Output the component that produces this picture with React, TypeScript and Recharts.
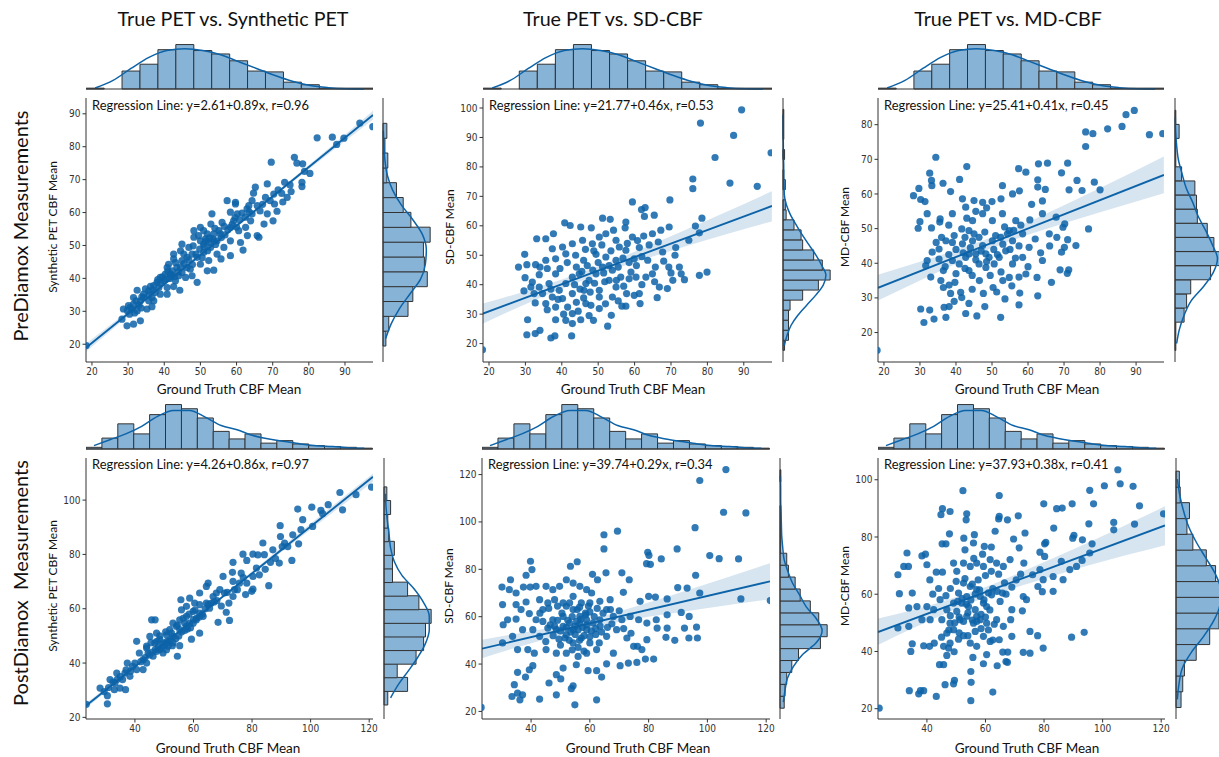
import React from "react";
import { ComposedChart, Scatter, Line, Area, Bar, XAxis, YAxis } from "recharts";

const BLUE = "#0d63a8";
const HIST_FILL = "#87b3d7";
const EDGE = "#333333";
const TICK_FONT = '"DejaVu Sans Condensed", "DejaVu Sans", sans-serif';
const TEXT_FONT = 'Lato, "Noto Sans", sans-serif';

// ground truth histograms (same x data for every panel of a row)
const preGtStart = 18.4;
const preGtBin = 4.96;
const preGtCounts = [1, 0, 21, 29, 46, 52, 45, 41, 33, 21, 20, 8, 5, 1, 1, 1];
const preGtKde = [1.2, 10, 24, 37, 45, 47, 45, 40, 32, 24, 16, 9, 4, 1.6, 0.4, 0.1];

const postGtStart = 23.3;
const postGtBin = 5.43;
const postGtCounts = [2, 13, 30, 18, 41, 53, 48, 37, 21, 12, 18, 7, 10, 6, 4, 3, 2, 1];
const postGtKde = [4, 11, 18, 27, 39, 46, 46, 38, 28, 23, 16, 12, 9, 6, 4, 3, 1.6, 0.8];

// right-hand marginal histograms
const p1SideStart = 19.5;
const p1SideBin = 4.507;
const p1SideCounts = [3, 6, 26, 31, 46, 43, 42, 49, 29, 21, 14, 4, 5, 2, 4];
const p1SideKde = [2.8, 8.6, 17, 28, 39, 44, 45, 41, 31, 19, 10, 4.5, 2, 1, 0.3];

const p2SideStart = 17.7;
const p2SideBin = 3.41;
const p2SideCounts = [2, 7, 7, 7, 9, 25, 45, 60, 50, 39, 25, 23, 14, 4, 3, 0, 3, 1, 0, 2, 0, 1, 1, 1];
const p2SideKde = [1.7, 5.2, 10.3, 18.9, 30.1, 41.7, 51.2, 54.6, 49, 41.7, 33.1, 24.5, 16.8, 9.5, 4.3, 1.7, 1.3, 0.9, 0.9, 0.4, 0.4, 0.2, 0.1, 0.1];

const p3SideStart = 14.8;
const p3SideBin = 4.08;
const p3SideCounts = [1, 1, 11, 14, 19, 43, 57, 47, 39, 27, 26, 24, 8, 1, 1, 5, 1];
const p3SideKde = [2, 5.3, 11, 19.3, 34, 46, 51.3, 45, 37, 28, 21.3, 13.5, 8.6, 4.1, 2, 0.8, 0.4];

const p4SideStart = 24.7;
const p4SideBin = 5.01;
const p4SideCounts = [4, 25, 14, 34, 42, 44, 50, 37, 25, 9, 9, 11, 5, 4, 7, 3];
const p4SideKde = [7, 15.5, 26, 36, 44, 48, 48, 42, 32, 19, 11, 7, 5.4, 3.6, 2.2, 1.4];

const p5SideStart = 21.4;
const p5SideBin = 5.03;
const p5SideCounts = [5, 6, 8, 14, 22, 48, 56, 46, 36, 24, 18, 10, 8, 1, 1, 1, 1, 0, 0, 1];
const p5SideKde = [4, 6, 8.8, 16, 26.8, 43.2, 50, 43.2, 31.2, 23.2, 14.8, 9.2, 4.8, 3.2, 2, 1.6, 1.2, 0.8, 0.8, 0.4];

const p6SideStart = 20.5;
const p6SideBin = 5.5;
const p6SideCounts = [6, 8, 10, 24, 40, 51, 56, 55, 47, 36, 20, 13, 16, 5, 4];
const p6SideKde = [1.6, 3.6, 7.6, 18.4, 32.8, 44.8, 52, 52.8, 46.4, 35.2, 24, 14.8, 8.8, 4.4, 1.6];

// regression fits [intercept, slope] and r as printed
const p1Fit = [2.61, 0.89];
const p2Fit = [21.77, 0.46];
const p3Fit = [25.41, 0.41];
const p4Fit = [4.26, 0.86];
const p5Fit = [39.74, 0.29];
const p6Fit = [37.93, 0.38];
const rValues = [0.96, 0.53, 0.45, 0.97, 0.34, 0.41];

// confidence bands [x, lower, upper]
const p1Band = [[18.4, 17.8, 20.2], [40, 37.7, 38.7], [55, 51.1, 52.0], [75, 68.8, 69.9], [97.8, 88.3, 91.0]];
const p2Band = [[18.1, 26.7, 33.5], [30, 33.4, 37.8], [45, 41.1, 43.9], [55, 45.6, 48.6], [65, 49.6, 53.8], [80, 55.3, 61.9], [97.7, 61.5, 71.7]];
const p3Band = [[18.3, 29.2, 36.7], [30, 35.0, 40.4], [45, 42.2, 45.6], [55, 46.4, 49.6], [65, 49.9, 54.3], [80, 54.7, 61.7], [97.7, 60.2, 70.8]];
const p4Band = [[23.3, 23.4, 25.2], [50, 46.9, 47.7], [70, 64.0, 65.0], [95, 85.0, 87.0], [121.3, 106.8, 109.8]];
const p5Band = [[23.3, 42.5, 50.3], [35, 47.0, 52.8], [50, 52.2, 56.2], [60, 55.4, 58.8], [75, 58.9, 64.1], [95, 62.7, 71.9], [121.3, 67.4, 82.6]];
const p6Band = [[23.3, 42.3, 51.5], [35, 48.0, 54.4], [50, 54.8, 59.0], [60, 58.9, 62.5], [75, 63.8, 69.0], [95, 70.0, 78.0], [121.3, 77.1, 90.7]];

// scatter points [ground truth, estimate]
const p1Points = [
  [97.7, 86.1], [94.1, 87.2], [89.7, 82.6], [86.5, 82.9], [87.7, 80.7], [82.3, 82.7], [69.6, 75.3], [76.0, 76.8], [76.7, 75.0], [78.3, 74.8],
  [78.8, 72.5], [80.3, 71.9], [78.1, 69.2], [78.1, 67.9], [73.3, 69.2], [75.1, 66.4], [74.0, 64.6], [71.5, 66.9], [70.3, 65.6], [68.5, 68.7],
  [65.2, 67.7], [64.7, 65.9], [68.0, 64.6], [70.5, 62.6], [71.2, 60.4], [68.5, 59.6], [70.1, 57.5], [67.6, 56.5], [66.2, 52.5], [65.7, 53.0],
  [63.0, 53.0], [61.8, 48.6], [63.4, 62.1], [64.3, 59.6], [59.7, 62.6], [58.3, 60.1], [60.2, 59.6], [59.2, 57.5], [58.3, 55.5], [56.0, 57.0],
  [53.2, 59.6], [52.9, 56.5], [50.0, 55.5], [48.2, 52.5], [48.0, 49.9], [50.9, 50.4], [53.7, 51.4], [55.5, 53.5], [58.3, 51.4], [61.1, 50.9],
  [54.6, 47.4], [55.7, 45.9], [58.3, 46.9], [51.9, 42.3], [53.7, 42.5], [49.1, 38.8], [47.2, 42.8], [44.9, 45.4], [44.5, 48.4], [42.6, 47.4],
  [46.3, 46.4], [40.8, 43.3], [41.7, 41.3], [43.1, 39.3], [39.9, 39.3], [38.5, 37.2], [37.5, 35.7], [35.7, 36.2], [38.9, 35.2], [36.6, 34.2],
  [34.3, 34.2], [32.5, 36.4], [33.4, 33.2], [31.5, 32.2], [30.6, 31.2], [32.5, 30.1], [30.4, 29.1], [28.3, 27.6], [29.7, 25.6], [31.5, 26.1],
  [33.4, 27.1], [36.6, 31.4], [35.2, 30.7], [40.8, 37.2], [42.6, 37.5], [44.3, 36.4], [45.9, 40.3], [47.7, 40.8], [46.3, 43.3], [50.0, 44.3],
  [52.3, 45.4], [50.9, 47.9], [52.8, 49.4], [49.5, 53.0], [51.9, 53.5], [54.6, 51.4], [56.5, 49.4], [60.6, 54.5], [62.5, 55.5], [63.9, 57.5],
  [57.4, 63.6], [59.7, 63.1], [62.9, 61.1], [65.7, 62.1], [64.3, 63.6], [41.2, 44.3], [42.2, 42.3], [43.5, 43.3], [44.0, 40.8], [44.9, 41.8],
  [40.3, 41.3], [38.9, 40.3], [38.0, 38.8], [37.1, 37.8], [45.4, 47.4], [46.8, 49.4], [47.7, 47.4], [49.1, 46.4], [50.0, 51.4], [51.4, 52.0],
  [52.3, 50.9], [53.7, 53.5], [55.1, 54.5], [50.9, 54.5], [48.2, 54.5], [44.9, 50.4], [42.6, 45.9], [34.3, 35.2], [35.7, 33.2], [31.5, 34.2],
  [30.1, 31.7], [28.7, 30.7], [33.0, 31.9], [37.1, 33.2], [40.8, 35.2], [43.1, 44.8], [18.4, 19.6],
  [39.5, 40.5], [40.5, 39.8], [41.5, 40.0], [42.0, 41.0], [42.8, 40.5], [43.8, 42.0], [44.5, 43.5], [41.0, 42.2], [39.0, 38.5], [38.2, 39.6],
  [36.8, 36.5], [35.8, 35.0], [36.2, 37.6], [34.8, 36.8], [33.8, 34.4], [32.2, 33.2], [31.0, 30.6], [29.8, 30.2], [31.8, 29.5], [33.6, 31.0],
  [45.5, 44.5], [46.8, 45.6], [47.8, 44.2], [48.8, 47.4], [49.8, 48.9], [51.0, 49.6], [51.6, 51.3], [52.5, 52.3], [53.4, 52.0], [54.2, 50.3],
  [52.0, 48.4], [50.5, 46.3], [55.8, 52.4], [56.8, 53.2], [57.6, 54.8], [58.8, 56.4], [59.6, 58.5], [60.8, 57.8], [61.5, 59.8], [62.4, 58.6],
  [60.0, 55.6], [56.6, 55.8], [54.0, 55.2], [63.5, 60.2], [66.5, 60.5], [67.2, 62.5], [69.3, 63.6], [72.5, 65.8], [72.8, 63.2], [74.8, 68.4],
];

const p2Points = [
  [89.4, 99.4], [78.1, 94.9], [87.2, 90.7], [82.1, 83.2], [97.5, 84.8], [86.2, 74.5], [93.7, 73.4], [76.0, 75.9], [76.0, 72.6], [69.7, 68.8],
  [59.4, 68.1], [78.5, 62.6], [76.7, 59.9], [77.8, 57.6], [74.9, 55.1], [77.8, 43.2], [79.9, 44.3], [51.2, 62.6], [53.3, 62.2], [62.7, 63.2],
  [65.4, 63.6], [61.9, 65.5], [62.9, 66.2], [57.6, 61.3], [54.2, 58.5], [57.4, 59.3], [48.1, 59.3], [45.2, 59.6], [40.8, 61.0], [42.3, 60.1],
  [37.7, 57.3], [33.1, 55.6], [35.6, 55.6], [29.8, 50.3], [28.1, 46.0], [30.4, 46.8], [32.8, 46.8], [29.9, 42.4], [31.9, 40.9], [31.5, 39.2],
  [29.6, 37.9], [32.4, 37.0], [34.7, 37.0], [33.8, 43.4], [32.7, 33.8], [30.6, 28.1], [30.4, 23.0], [32.7, 23.4], [34.0, 24.5], [37.0, 21.9],
  [38.1, 22.6], [42.7, 22.6], [52.6, 25.9], [42.9, 26.8], [41.6, 32.4], [38.3, 28.1], [45.2, 28.1], [48.7, 27.9], [50.3, 31.9], [53.6, 29.6],
  [57.6, 32.7], [61.5, 33.6], [56.5, 32.7], [18.2, 17.9], [46.0, 48.3], [49.4, 50.3], [52.1, 49.4], [54.9, 48.3], [57.6, 51.7], [59.9, 48.8],
  [61.3, 52.6], [63.6, 48.3], [65.7, 46.0], [67.7, 51.1], [69.4, 46.0], [71.1, 50.0], [72.3, 46.0], [70.5, 41.5], [72.8, 43.7], [73.7, 41.7],
  [66.8, 39.2], [66.2, 35.6], [69.0, 38.7], [61.3, 37.0], [59.9, 36.4], [57.8, 37.0], [54.9, 39.2], [53.0, 41.5], [50.3, 38.1], [46.6, 40.4],
  [44.8, 43.7], [42.9, 42.6], [41.1, 40.4], [39.3, 38.1], [37.4, 35.8], [40.2, 35.3], [42.9, 37.0], [46.1, 38.1], [47.5, 41.5], [49.4, 43.7],
  [51.2, 46.0], [53.9, 44.9], [56.2, 42.6], [59.0, 44.3], [60.4, 42.6], [63.1, 42.6], [64.9, 43.7], [38.3, 43.7], [36.5, 40.4], [35.6, 48.3],
  [38.3, 48.8], [41.1, 50.5], [42.9, 53.9], [45.7, 55.1], [48.4, 53.9], [50.3, 56.2], [52.1, 57.3], [54.9, 55.1], [59.4, 56.2], [64.9, 57.3],
  [67.2, 58.5], [69.5, 59.6], [71.3, 52.6], [40.2, 52.8], [37.4, 52.2], [33.8, 39.2], [35.6, 33.6], [42.9, 30.2], [46.6, 33.6], [50.3, 35.8],
  [53.9, 35.8], [38.3, 32.4], [41.1, 27.9],
  [44.0, 46.0], [45.5, 44.5], [47.0, 46.5], [48.5, 45.0], [50.0, 47.5], [51.5, 44.0], [53.0, 46.5], [55.5, 46.0], [56.8, 49.0], [58.5, 47.5],
  [60.5, 46.5], [62.0, 49.5], [43.5, 40.0], [45.0, 38.5], [47.8, 37.5], [49.0, 40.5], [51.8, 41.0], [55.0, 41.5], [57.0, 39.5], [44.0, 34.0],
  [46.0, 35.5], [48.0, 33.0], [52.0, 33.5], [39.5, 45.5], [41.5, 47.5], [43.8, 50.0], [46.5, 52.0], [48.8, 51.5], [51.0, 53.5], [53.5, 51.5],
  [55.8, 52.8], [58.0, 54.0], [60.8, 55.0], [62.5, 56.5], [64.0, 53.5], [66.5, 54.5], [68.0, 48.0], [70.0, 44.0], [36.0, 45.5], [34.0, 46.0],
  [37.0, 38.5], [39.0, 35.0], [36.0, 31.5], [40.5, 30.0], [44.5, 31.0], [47.5, 29.5], [55.5, 34.5], [58.5, 42.0], [62.0, 40.0], [65.5, 41.0],
];

const p3Points = [
  [89.5, 84.1], [87.2, 82.9], [86.1, 79.5], [82.1, 78.8], [78.0, 77.4], [76.0, 77.9], [76.0, 73.7], [93.7, 77.1], [97.4, 77.4], [34.4, 70.6],
  [43.0, 67.9], [32.7, 66.0], [33.2, 63.9], [33.3, 62.4], [28.2, 59.5], [29.7, 61.6], [30.2, 58.4], [31.4, 57.8], [32.0, 54.3], [30.0, 52.0],
  [29.5, 50.1], [33.2, 50.2], [35.5, 51.9], [35.6, 52.8], [36.4, 63.1], [38.5, 60.7], [41.0, 64.2], [41.8, 58.6], [45.0, 58.1], [47.4, 57.6],
  [50.0, 57.8], [52.5, 58.6], [52.9, 62.4], [55.7, 60.0], [57.6, 60.9], [57.4, 67.3], [59.4, 66.3], [62.9, 68.7], [65.4, 68.9], [71.0, 68.9],
  [69.3, 66.1], [62.7, 64.1], [62.7, 62.0], [64.8, 61.3], [71.4, 61.2], [73.6, 63.9], [75.0, 61.0], [78.4, 63.4], [80.0, 61.2], [76.8, 49.9],
  [73.3, 45.1], [71.0, 46.8], [70.1, 44.6], [69.3, 43.2], [71.3, 38.1], [70.9, 37.1], [68.9, 38.1], [66.5, 34.5], [62.5, 35.9], [62.7, 30.6],
  [57.7, 31.4], [57.5, 28.0], [53.6, 29.7], [52.4, 24.4], [51.3, 31.7], [50.3, 33.0], [47.6, 31.3], [45.8, 24.8], [43.6, 28.4], [42.7, 25.5],
  [41.6, 30.1], [41.3, 31.6], [38.5, 31.3], [38.1, 27.5], [36.7, 27.3], [37.2, 24.4], [33.9, 23.9], [32.7, 26.5], [31.1, 22.9], [30.2, 26.8],
  [35.8, 35.0], [38.1, 33.7], [39.7, 34.5], [36.5, 37.9], [31.6, 39.3], [32.0, 40.8], [35.3, 41.2], [33.4, 43.2], [35.3, 44.1], [37.2, 46.5],
  [39.5, 48.0], [41.6, 49.9], [43.6, 49.4], [44.6, 46.5], [46.4, 47.5], [47.4, 45.1], [49.2, 41.7], [45.5, 42.7], [42.7, 41.7], [40.9, 39.8],
  [43.6, 37.9], [46.4, 39.8], [48.3, 38.8], [50.6, 39.8], [52.0, 41.7], [53.8, 43.6], [55.7, 46.5], [54.8, 49.4], [56.6, 52.3], [52.9, 54.3],
  [50.1, 52.3], [47.4, 54.3], [44.6, 52.3], [58.5, 48.5], [60.3, 44.6], [58.5, 41.7], [55.7, 39.8], [54.8, 35.9], [59.4, 36.9], [64.0, 40.8],
  [65.9, 48.5], [67.8, 53.3], [64.0, 54.3], [69.7, 50.4], [70.2, 51.4], [50.1, 46.5], [52.4, 47.5], [54.3, 48.5], [18.1, 14.9], [39.0, 40.8],
  [41.8, 45.6], [43.6, 42.7], [48.3, 42.7], [39.0, 54.3], [42.7, 56.2],
  [40.0, 44.0], [42.0, 43.0], [44.0, 44.5], [45.5, 41.0], [47.0, 43.5], [48.5, 40.5], [50.5, 44.0], [51.5, 42.5], [53.0, 45.5], [55.0, 44.0],
  [56.5, 41.5], [57.5, 45.0], [42.5, 38.5], [44.5, 36.5], [46.5, 35.0], [49.5, 36.5], [52.5, 37.5], [55.5, 33.5], [57.5, 36.0], [40.0, 37.0],
  [38.0, 42.5], [37.0, 39.0], [36.0, 47.5], [39.0, 46.0], [42.5, 47.5], [45.0, 48.5], [48.0, 49.0], [51.0, 48.0], [53.5, 50.5], [56.0, 49.5],
  [58.0, 51.0], [60.5, 52.5], [62.0, 47.0], [63.5, 43.0], [66.0, 45.0], [68.0, 47.5], [61.0, 57.0], [64.0, 58.0], [48.5, 56.0], [45.5, 55.0],
  [43.0, 53.0], [38.0, 51.0], [34.5, 46.0], [33.0, 36.0], [36.5, 33.0], [39.5, 29.0], [44.5, 32.5], [48.0, 27.5], [53.0, 35.0], [60.0, 39.0],
];

const p4Points = [
  [120.8, 104.8], [115.5, 102.0], [110.0, 102.8], [110.9, 96.4], [106.0, 98.3], [103.5, 96.2], [104.1, 95.0], [100.4, 97.4], [95.6, 96.7], [97.3, 92.8],
  [96.7, 89.1], [93.9, 87.2], [95.9, 83.9], [93.6, 77.8], [89.6, 90.6], [89.7, 86.6], [90.3, 82.9], [91.1, 84.2], [83.7, 84.2], [80.3, 80.1],
  [76.9, 80.1], [78.2, 77.8], [82.0, 79.8], [84.2, 79.9], [86.3, 77.1], [89.3, 76.8], [85.7, 68.5], [82.5, 72.5], [80.3, 67.2], [79.9, 66.4],
  [77.8, 65.2], [78.2, 69.4], [76.3, 73.1], [73.5, 77.1], [73.3, 73.4], [70.1, 71.9], [73.5, 70.1], [74.0, 67.0], [72.1, 62.1], [72.3, 55.7],
  [71.2, 58.7], [68.4, 55.0], [67.8, 65.8], [65.0, 69.4], [64.4, 68.2], [62.1, 65.8], [62.1, 61.5], [65.5, 60.2], [63.3, 57.2], [60.4, 62.1],
  [58.7, 63.9], [55.7, 63.3], [59.9, 59.0], [57.6, 57.2], [62.1, 51.0], [59.3, 48.8], [55.3, 46.4], [54.5, 42.5], [52.8, 46.4], [54.2, 53.5],
  [50.8, 50.4], [49.6, 47.4], [46.8, 47.4], [45.7, 55.9], [46.9, 55.9], [45.1, 49.8], [44.5, 43.7], [42.8, 41.2], [41.5, 43.7], [40.6, 48.0],
  [40.0, 40.0], [37.4, 40.0], [36.6, 36.3], [33.8, 36.3], [36.8, 30.2], [30.6, 28.0], [30.6, 25.0], [28.1, 30.8], [31.5, 33.9], [33.2, 32.7],
  [34.9, 30.8], [38.3, 35.1], [40.6, 37.6], [44.0, 40.0], [46.2, 42.5], [48.5, 44.9], [49.6, 43.7], [51.3, 46.2], [53.0, 49.8], [55.3, 52.3],
  [57.0, 54.7], [58.7, 54.7], [61.0, 55.9], [64.4, 62.1], [66.7, 64.5], [69.0, 67.0], [70.6, 65.8], [75.7, 69.4], [47.4, 51.0], [48.5, 48.6],
  [50.8, 47.4], [51.9, 52.3], [53.0, 54.7], [55.3, 55.9], [57.6, 53.5], [59.9, 54.7], [62.1, 58.4], [55.9, 59.6], [57.6, 60.9], [50.8, 44.9],
  [47.4, 44.3], [42.8, 37.6], [39.2, 38.8], [35.8, 33.9], [33.0, 30.2], [44.0, 46.2], [73.5, 64.5], [80.3, 71.9], [87.1, 81.7], [92.2, 82.9],
  [100.7, 90.3], [23.4, 24.8],
  [42.0, 40.5], [43.5, 42.0], [45.0, 43.0], [46.0, 44.0], [47.0, 45.0], [48.0, 46.0], [49.0, 45.5], [50.0, 46.5], [51.0, 48.0], [52.0, 48.5],
  [53.0, 47.5], [54.0, 49.0], [55.0, 50.0], [56.0, 51.5], [57.0, 52.0], [58.0, 52.5], [59.0, 53.0], [60.0, 56.0], [61.0, 56.5], [62.0, 57.0],
  [63.0, 58.0], [64.0, 60.0], [65.0, 61.5], [66.0, 62.0], [67.0, 62.5], [68.0, 63.0], [38.5, 37.0], [37.0, 37.5], [35.0, 35.0], [34.0, 34.0],
  [32.5, 33.0], [31.0, 31.0], [29.5, 29.5], [48.5, 50.0], [50.5, 51.5], [52.5, 51.0], [54.5, 54.0], [56.5, 56.5], [58.5, 58.0], [60.5, 59.5],
  [45.5, 47.5], [44.0, 45.5], [47.5, 48.0], [69.5, 61.0], [71.5, 66.0], [75.0, 67.0], [77.0, 71.5], [81.5, 75.0], [84.5, 74.5], [88.0, 78.5],
];

const p5Points = [
  [106.3, 122.1], [97.4, 117.5], [105.5, 104.1], [113.1, 103.8], [95.8, 97.6], [64.8, 94.6], [69.4, 96.1], [64.8, 88.6], [89.7, 88.6], [79.7, 87.2],
  [80.1, 85.9], [84.3, 84.4], [100.8, 85.8], [104.0, 84.5], [110.6, 84.4], [79.3, 82.4], [80.6, 82.1], [96.0, 77.5], [55.7, 83.2], [53.4, 81.3],
  [39.8, 83.4], [40.3, 79.9], [38.3, 77.5], [60.9, 77.9], [65.5, 78.5], [70.9, 78.5], [62.6, 75.6], [73.4, 75.6], [30.1, 72.5], [32.6, 71.4],
  [33.0, 75.6], [34.9, 70.0], [37.4, 72.5], [39.7, 72.5], [41.7, 72.8], [45.1, 72.8], [47.4, 71.4], [49.7, 72.8], [52.0, 75.6], [54.3, 74.2],
  [56.6, 72.8], [58.9, 71.4], [60.6, 70.0], [54.3, 68.6], [30.3, 65.1], [34.9, 65.1], [38.3, 66.2], [42.9, 67.2], [45.7, 65.8], [48.0, 67.2],
  [50.9, 65.8], [53.1, 65.8], [57.1, 65.8], [60.0, 65.8], [63.4, 66.5], [66.9, 67.2], [71.4, 70.3], [77.1, 66.5], [80.0, 68.6], [82.3, 68.3],
  [86.3, 67.5], [93.1, 72.1], [89.9, 72.3], [97.4, 70.0], [111.4, 67.5], [121.4, 66.8], [30.5, 56.6], [32.0, 58.7], [34.9, 59.0], [36.6, 63.0],
  [39.4, 61.3], [41.7, 58.7], [44.0, 63.0], [47.4, 58.7], [50.9, 60.1], [53.1, 57.3], [56.6, 60.1], [58.9, 58.7], [61.1, 57.3], [63.4, 58.7],
  [65.7, 63.0], [68.0, 60.1], [70.9, 58.7], [73.7, 60.1], [76.6, 58.7], [79.4, 57.3], [82.6, 58.7], [86.3, 60.8], [91.1, 61.8], [93.8, 60.1],
  [82.9, 55.2], [86.3, 55.2], [92.2, 55.2], [96.3, 55.6], [96.6, 51.0], [93.7, 51.0], [88.9, 50.0], [85.9, 51.3], [79.4, 50.3], [76.2, 47.5],
  [77.7, 46.1], [74.9, 47.5], [72.6, 51.0], [69.1, 54.5], [65.7, 51.7], [63.2, 48.9], [60.0, 48.9], [57.1, 51.0], [54.3, 48.9], [52.0, 52.4],
  [48.6, 54.5], [45.7, 55.2], [42.9, 51.7], [40.6, 54.5], [37.1, 54.5], [33.7, 51.7], [30.3, 48.9], [35.4, 46.1], [38.9, 46.1], [41.1, 44.6],
  [45.1, 46.1], [48.6, 44.6], [52.0, 44.6], [56.0, 43.2], [58.9, 44.6], [62.3, 46.1], [68.0, 44.6], [78.9, 42.1], [81.7, 42.1], [76.0, 40.7],
  [73.1, 40.4], [70.3, 39.3], [65.7, 40.1], [62.3, 37.2], [59.4, 37.2], [64.0, 34.5], [55.4, 39.7], [50.9, 38.3], [48.6, 35.5], [46.1, 32.0],
  [40.6, 39.3], [39.4, 37.6], [38.1, 34.5], [35.4, 36.5], [34.3, 31.3], [33.5, 26.3], [35.4, 27.7], [37.1, 27.0], [36.2, 24.9], [42.9, 25.2],
  [48.6, 27.0], [50.1, 33.7], [54.3, 30.8], [53.7, 29.6], [54.9, 22.8], [62.3, 24.9], [23.0, 21.7], [52.0, 64.4], [54.3, 63.0], [56.6, 57.3],
  [58.9, 54.5], [54.3, 54.5], [50.9, 55.9], [55.7, 63.0], [58.6, 60.8],
  [48.0, 56.0], [50.0, 54.0], [52.0, 55.5], [53.5, 53.5], [55.0, 56.0], [56.0, 54.5], [57.5, 55.5], [59.0, 56.5], [60.5, 54.0], [62.0, 55.0],
  [63.5, 56.0], [52.5, 58.5], [54.0, 60.0], [55.5, 58.0], [57.0, 59.0], [58.5, 61.5], [60.0, 62.0], [61.5, 60.0], [50.5, 61.5], [49.0, 58.5],
  [46.5, 56.5], [47.5, 52.0], [49.5, 50.5], [51.5, 51.0], [53.0, 50.0], [55.0, 52.5], [56.5, 50.0], [58.0, 52.0], [60.0, 51.5], [62.0, 52.5],
  [64.0, 53.5], [66.0, 55.5], [67.5, 57.0], [56.0, 47.0], [58.0, 45.5], [54.0, 46.0], [50.0, 48.0], [45.0, 49.5], [44.0, 58.0], [43.0, 61.5],
  [46.0, 63.5], [49.0, 64.5], [56.5, 64.0], [59.5, 64.5], [62.5, 63.5], [64.5, 61.5], [67.0, 63.0], [70.0, 62.5], [71.5, 55.0], [74.0, 53.0],
];

const p6Points = [
  [105.2, 103.5], [106.0, 98.6], [110.4, 97.7], [100.6, 97.9], [95.6, 96.3], [52.3, 96.2], [64.7, 94.5], [96.9, 91.6], [112.6, 90.9], [89.6, 91.6],
  [79.9, 91.6], [86.2, 90.1], [84.3, 89.9], [45.3, 89.9], [47.9, 88.9], [44.8, 87.8], [53.6, 88.1], [53.4, 86.0], [64.7, 87.2], [64.5, 86.3],
  [67.5, 86.0], [71.2, 87.4], [120.8, 88.1], [110.9, 84.5], [103.8, 85.1], [103.8, 82.5], [95.3, 84.6], [93.1, 79.0], [83.3, 83.1], [73.5, 81.4],
  [63.3, 82.0], [52.6, 79.6], [47.7, 81.1], [45.2, 77.6], [46.5, 77.6], [56.2, 80.8], [55.9, 77.9], [59.6, 76.7], [62.0, 76.5], [69.6, 79.3],
  [71.5, 76.2], [80.6, 78.1], [80.2, 77.6], [90.2, 80.6], [89.8, 79.6], [96.4, 77.6], [95.6, 74.4], [93.0, 71.8], [78.6, 74.7], [80.2, 73.2],
  [85.9, 71.5], [91.1, 69.7], [88.8, 68.6], [30.1, 66.8], [33.2, 74.4], [33.7, 69.7], [32.1, 69.7], [38.3, 73.4], [39.5, 74.0], [40.0, 70.3],
  [43.2, 67.7], [45.3, 67.7], [49.1, 70.9], [50.2, 68.0], [52.5, 70.9], [54.8, 69.7], [57.0, 70.9], [59.3, 69.7], [61.6, 72.1], [63.8, 70.9],
  [66.1, 69.7], [68.4, 72.1], [73.1, 70.9], [76.1, 66.8], [78.6, 68.6], [79.7, 65.1], [83.1, 66.2], [86.5, 65.1], [83.1, 61.0], [79.4, 60.9],
  [77.9, 62.7], [72.9, 59.2], [74.0, 58.1], [72.6, 54.2], [69.0, 54.6], [65.8, 60.4], [62.1, 59.8], [59.3, 56.9], [57.0, 61.6], [54.8, 62.7],
  [52.5, 63.9], [50.8, 60.4], [49.1, 56.9], [46.8, 54.6], [44.5, 58.1], [42.3, 54.6], [40.0, 55.7], [36.6, 55.7], [35.0, 60.4], [33.8, 55.2],
  [30.6, 60.2], [30.1, 48.2], [33.8, 48.8], [38.3, 51.1], [41.1, 51.1], [45.1, 51.1], [47.9, 49.9], [51.3, 51.1], [53.6, 52.3], [55.9, 49.9],
  [58.2, 51.1], [60.4, 49.9], [63.8, 51.1], [66.1, 48.8], [68.6, 51.1], [64.7, 44.1], [69.0, 45.3], [75.2, 47.0], [77.8, 45.5], [79.7, 41.2],
  [75.2, 39.4], [72.9, 39.7], [67.6, 39.8], [65.9, 39.8], [60.4, 38.9], [55.7, 37.9], [59.3, 35.7], [64.0, 35.0], [67.0, 36.5], [67.5, 36.2],
  [55.0, 33.0], [55.1, 29.2], [49.4, 29.9], [49.1, 28.7], [46.2, 28.4], [43.2, 24.3], [38.9, 26.3], [37.2, 25.2], [37.8, 26.3], [34.0, 26.3],
  [62.5, 25.8], [55.0, 22.8], [35.0, 42.7], [34.5, 40.0], [38.9, 42.0], [40.9, 41.8], [42.5, 42.9], [45.7, 41.8], [47.4, 41.2], [49.3, 39.9],
  [44.3, 35.4], [45.7, 35.4], [46.8, 38.6], [47.9, 42.9], [50.8, 44.3], [52.5, 45.5], [49.1, 47.6], [46.8, 46.4], [54.8, 42.9], [57.0, 41.8],
  [59.3, 45.3], [61.6, 43.5], [23.7, 20.2], [89.4, 45.0], [93.7, 46.7], [54.2, 55.7], [56.5, 54.6], [58.2, 59.2], [60.4, 55.7], [51.9, 56.9],
  [53.6, 59.2], [50.2, 54.0], [57.0, 52.3],
  [48.0, 52.5], [49.5, 50.0], [51.0, 52.0], [52.5, 50.5], [54.0, 53.5], [55.5, 51.0], [57.0, 50.5], [58.5, 53.0], [60.0, 52.0], [61.5, 54.5],
  [50.5, 57.5], [52.0, 58.5], [53.5, 56.5], [55.0, 58.0], [56.5, 60.0], [58.0, 61.5], [59.5, 58.0], [61.0, 60.5], [62.5, 62.0], [64.0, 61.0],
  [55.5, 63.5], [57.5, 65.0], [60.0, 66.5], [62.0, 68.0], [64.5, 67.0], [66.5, 64.0], [53.0, 65.5], [50.0, 64.5], [48.0, 62.0], [46.5, 59.5],
  [47.5, 47.5], [51.0, 46.5], [54.0, 45.5], [56.5, 47.0], [58.5, 48.0], [61.0, 47.5], [63.0, 49.5], [65.0, 57.5], [67.0, 60.0], [69.0, 62.5],
  [70.5, 65.0], [72.0, 67.0], [44.0, 62.0], [42.0, 60.0], [41.0, 65.0], [56.0, 72.5], [59.0, 74.0], [53.0, 75.5], [62.5, 44.0], [45.0, 45.0],
];

// axis ticks and labels
const preXTicks = [20, 30, 40, 50, 60, 70, 80, 90];
const postXTicks = [40, 60, 80, 100, 120];
const titles = ["True PET vs. Synthetic PET", "True PET vs. SD-CBF", "True PET vs. MD-CBF"];
const yLabels = ["Synthetic PET CBF Mean", "SD-CBF Mean", "MD-CBF Mean"];
const xLabel = "Ground Truth CBF Mean";
const rowLabels = ["PreDiamox Measurements", "PostDiamox  Measurements"];

const preX = [18.35, 97.75];
const postX = [23.3, 121.3];

// layout: plot boxes, label centres
const titleX = [233, 613, 1008];
const xLabelX = [229, 633, 1027, 228, 638, 1027];

const panels = [
  { left: 86, top: 97.5, w: 287, h: 264, sideX: 383.3, xDomain: preX, xTicks: preXTicks, yDomain: [14.6, 94.8], yTicks: [20, 30, 40, 50, 60, 70, 80, 90], points: p1Points, band: p1Band, fit: p1Fit, side: [p1SideStart, p1SideBin, p1SideCounts, p1SideKde] },
  { left: 483, top: 97.5, w: 289, h: 264, sideX: 782.7, xDomain: preX, xTicks: preXTicks, yDomain: [13.75, 103.4], yTicks: [20, 30, 40, 50, 60, 70, 80, 90, 100], points: p2Points, band: p2Band, fit: p2Fit, side: [p2SideStart, p2SideBin, p2SideCounts, p2SideKde] },
  { left: 878.3, top: 97.5, w: 286, h: 264, sideX: 1175, xDomain: preX, xTicks: preXTicks, yDomain: [11.5, 87.7], yTicks: [20, 30, 40, 50, 60, 70, 80], points: p3Points, band: p3Band, fit: p3Fit, side: [p3SideStart, p3SideBin, p3SideCounts, p3SideKde] },
  { left: 86, top: 458.3, w: 287, h: 261, sideX: 384, xDomain: postX, xTicks: postXTicks, yDomain: [19.4, 115.5], yTicks: [20, 40, 60, 80, 100], points: p4Points, band: p4Band, fit: p4Fit, side: [p4SideStart, p4SideBin, p4SideCounts, p4SideKde] },
  { left: 482, top: 458.3, w: 288, h: 261, sideX: 780, xDomain: postX, xTicks: postXTicks, yDomain: [16.8, 127], yTicks: [20, 40, 60, 80, 100, 120], points: p5Points, band: p5Band, fit: p5Fit, side: [p5SideStart, p5SideBin, p5SideCounts, p5SideKde] },
  { left: 878.3, top: 458.3, w: 287, h: 261, sideX: 1175.7, xDomain: postX, xTicks: postXTicks, yDomain: [16.4, 107.6], yTicks: [20, 40, 60, 80, 100], points: p6Points, band: p6Band, fit: p6Fit, side: [p6SideStart, p6SideBin, p6SideCounts, p6SideKde] },
];

const tickStyle = { fontSize: 10, fill: "#333", fontFamily: TICK_FONT };

const Dot = (props: any) => (
  <circle cx={props.cx} cy={props.cy} r={3.6} fill={BLUE} fillOpacity={0.85} />
);

function binRows(start: number, width: number, counts: number[], kde: number[], key: string) {
  return counts.map((c, i) => ({ [key]: start + (i + 0.5) * width, count: c, kde: kde[i] }));
}

function TopHist({ left, top, width, height, xDomain, xTicks, start, bin, counts, kde }: any) {
  const data = binRows(start, bin, counts, kde, "x");
  const max = Math.max(...counts);
  return (
    <div style={{ position: "absolute", left, top }}>
      <ComposedChart width={width} height={height + 4} data={data} margin={{ top: 0, right: 0, bottom: 0, left: 0 }} barCategoryGap={0} barGap={0}>
        <XAxis type="number" dataKey="x" domain={xDomain} ticks={xTicks} allowDataOverflow height={4} tickSize={3.5} tick={false} stroke={EDGE} interval={0} />
        <YAxis type="number" hide domain={[0, max * 1.08]} />
        <Bar dataKey="count" fill={HIST_FILL} stroke={EDGE} strokeWidth={1} isAnimationActive={false} />
        <Line dataKey="kde" type="monotone" stroke={BLUE} strokeWidth={1.5} dot={false} isAnimationActive={false} />
      </ComposedChart>
    </div>
  );
}

function SideHist({ p }: any) {
  const [start, bin, counts, kde] = p.side;
  const data = binRows(start, bin, counts, kde, "y");
  const max = Math.max(...counts);
  return (
    <div style={{ position: "absolute", left: p.sideX - 4, top: p.top }}>
      <ComposedChart layout="vertical" width={54} height={p.h} data={data} margin={{ top: 0, right: 0, bottom: 0, left: 0 }} barCategoryGap={0} barGap={0}>
        <YAxis type="number" dataKey="y" domain={p.yDomain} ticks={p.yTicks} allowDataOverflow reversed width={4} tickSize={3.5} tick={false} stroke={EDGE} interval={0} />
        <XAxis type="number" hide domain={[0, max * 1.06]} />
        <Bar dataKey="count" fill={HIST_FILL} stroke={EDGE} strokeWidth={1} isAnimationActive={false} />
        <Line dataKey="kde" type="monotone" stroke={BLUE} strokeWidth={1.5} dot={false} isAnimationActive={false} />
      </ComposedChart>
    </div>
  );
}

function MainPlot({ p }: any) {
  const YAW = 40;
  const XAH = 22;
  const RP = 12;
  const pts = p.points.map(([x, y]: number[]) => ({ x, y }));
  const fitLine = p.xDomain.map((x: number) => ({ x, y: p.fit[0] + p.fit[1] * x }));
  const band = p.band.map(([x, lo, hi]: number[]) => ({ x, band: [lo, hi] }));
  return (
    <div style={{ position: "absolute", left: p.left - YAW, top: p.top }}>
      <ComposedChart width={p.w + YAW + RP} height={p.h + XAH} margin={{ top: 0, right: RP, bottom: 0, left: 0 }}>
        <XAxis type="number" dataKey="x" domain={p.xDomain} ticks={p.xTicks} allowDataOverflow height={XAH} tickSize={3.5} tick={tickStyle} stroke={EDGE} interval={0} />
        <YAxis type="number" dataKey="y" domain={p.yDomain} ticks={p.yTicks} allowDataOverflow width={YAW} tickSize={3.5} tick={tickStyle} stroke={EDGE} interval={0} />
        <Scatter data={pts} shape={Dot} isAnimationActive={false} />
        <Area data={band} dataKey="band" type="monotone" stroke="none" fill={BLUE} fillOpacity={0.17} isAnimationActive={false} />
        <Line data={fitLine} dataKey="y" stroke={BLUE} strokeWidth={1.9} dot={false} isAnimationActive={false} />
      </ComposedChart>
    </div>
  );
}

function Text({ x, y, size, rotate, children, align, squeeze }: any) {
  const tx = align === "left" ? "0" : "-50%";
  return (
    <div
      style={{
        position: "absolute",
        left: x,
        top: y,
        transform: `translate(${tx}, -50%)` + (rotate ? " rotate(-90deg)" : "") + (squeeze ? ` scaleX(${squeeze})` : ""),
        transformOrigin: align === "left" ? "left center" : "center",
        fontSize: size,
        fontFamily: TEXT_FONT,
        color: "#111",
        whiteSpace: "pre",
        lineHeight: 1,
      }}
    >
      {children}
    </div>
  );
}

export default function App() {
  return (
    <div style={{ position: "absolute", left: 0, top: 0, width: 1219, height: 757, overflow: "hidden", background: "#fff" }}>
      {panels.map((p, i) => {
        const top = i < 3;
        return (
          <React.Fragment key={i}>
            {top && <Text x={titleX[i]} y={19} size={19.7}>{titles[i]}</Text>}
            <TopHist
              left={p.left}
              top={top ? 40.5 : 401}
              width={p.w}
              height={48}
              xDomain={p.xDomain}
              xTicks={p.xTicks}
              start={top ? preGtStart : postGtStart}
              bin={top ? preGtBin : postGtBin}
              counts={top ? preGtCounts : postGtCounts}
              kde={top ? preGtKde : postGtKde}
            />
            <MainPlot p={p} />
            <SideHist p={p} />
            <Text x={p.left + 6} y={p.top + (top ? 7.5 : 6)} size={14} align="left" squeeze={0.92}>
              {`Regression Line: y=${p.fit[0].toFixed(2)}+${p.fit[1].toFixed(2)}x, r=${rValues[i].toFixed(2)}`}
            </Text>
            <Text x={xLabelX[i]} y={top ? 390 : 749} size={13.5}>{xLabel}</Text>
            <Text x={p.left - 33} y={p.top + p.h / 2 - 3} size={12} rotate>{yLabels[i % 3]}</Text>
          </React.Fragment>
        );
      })}
      <Text x={20} y={226} size={20} rotate>{rowLabels[0]}</Text>
      <Text x={20} y={583} size={20} rotate>{rowLabels[1]}</Text>
    </div>
  );
}
